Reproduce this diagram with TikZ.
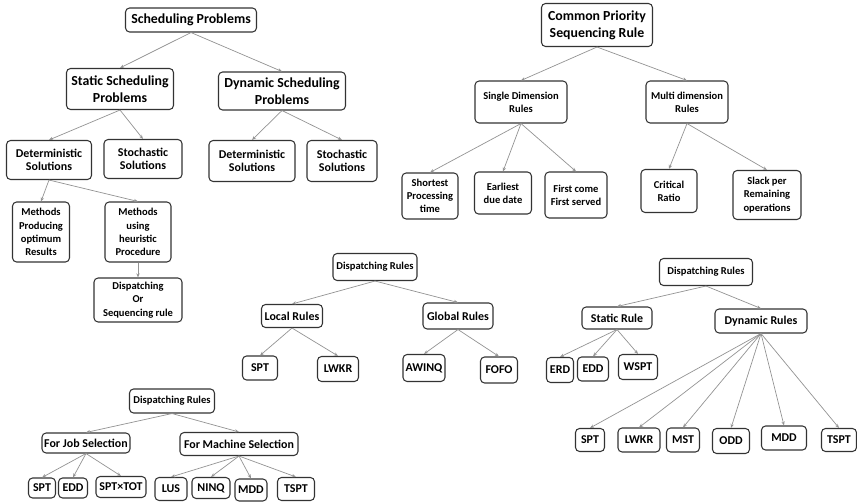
\documentclass[tikz,border=0pt]{standalone}
\usepackage{fontspec}
\setmainfont{Carlito}
\usetikzlibrary{arrows.meta}

\tikzset{
    rbox/.style={
        draw=black!80,
        line width=0.9pt,
        rounded corners=3.5pt,
        fill=white,
        align=center,
        inner sep=1pt,
        font=\bfseries
    },
    big/.style={rbox, font=\bfseries\fontsize{11.8}{14.5}\selectfont},
    mid/.style={rbox, font=\bfseries\fontsize{10.2}{11.6}\selectfont},
    small/.style={rbox, font=\bfseries\fontsize{9}{11.3}\selectfont},
    sz/.style 2 args={minimum width=#1*0.03cm, minimum height=#2*0.03cm},
    link/.style={->, gray!85, line width=0.6pt}
}

\begin{document}
\begin{tikzpicture}[>={Stealth[length=3.5pt,width=2.8pt]}, x=0.03cm, y=-0.03cm]

\useasboundingbox (0,0) rectangle (857,502);

% Scheduling problems

\node[big, sz={131}{24}] (sched) at (191,20) {Scheduling Problems};
\node[big, sz={107}{41}] (static) at (120,89) {Static Scheduling\\Problems};
\node[big, sz={127}{38}] (dynamic) at (282,91) {Dynamic Scheduling\\Problems};
\node[mid, sz={85}{39}] (detA) at (49,160) {Deterministic\\Solutions};
\node[mid, sz={78}{39}] (stochA) at (143,159) {Stochastic\\Solutions};
\node[mid, sz={86}{41}] (detB) at (252,161) {Deterministic\\Solutions};
\node[mid, sz={70}{41}] (stochB) at (342,161) {Stochastic\\Solutions};
\node[small, sz={57}{60}] (optimum) at (41,232) {Methods\\Producing\\optimum\\Results};
\node[small, sz={66}{60}] (heuristic) at (138,232) {Methods\\using\\heuristic\\Procedure};
\node[small, sz={88}{44}] (dispseq) at (138,300) {Dispatching\\Or\\Sequencing rule};

\draw[link] (sched.south) -- (static.north);
\draw[link] (sched.south) -- (dynamic.north);
\draw[link] (static.south) -- (detA.north);
\draw[link] (static.south) -- (stochA.north);
\draw[link] (dynamic.south) -- (detB.north);
\draw[link] (dynamic.south) -- (stochB.north);
\draw[link] (detA.south) -- (optimum.north);
\draw[link] (detA.south) -- (heuristic.north);
\draw[link] (heuristic.south) -- (dispseq.north);


% Common priority sequencing rule

\node[big, sz={111}{43}] (cpsr) at (597,25) {Common Priority\\Sequencing Rule};
\node[small, sz={92}{42}] (single) at (521,102) {Single Dimension\\Rules};
\node[small, sz={82}{42}] (multi) at (687,102) {Multi dimension\\Rules};
\node[small, sz={56}{46}] (sptA) at (430,196) {Shortest\\Processing\\time};
\node[small, sz={57}{42}] (eddA) at (503,193) {Earliest\\due date};
\node[small, sz={62}{46}] (fcfs) at (576,195) {First come\\First served};
\node[small, sz={56}{43}] (cr) at (669,191) {Critical\\Ratio};
\node[small, sz={68}{49}] (slack) at (767,195) {Slack per\\Remaining\\operations};

\draw[link] (cpsr.south) -- (single.north);
\draw[link] (cpsr.south) -- (multi.north);
\draw[link] (single.south) -- (sptA.north);
\draw[link] (single.south) -- (eddA.north);
\draw[link] (single.south) -- (fcfs.north);
\draw[link] (multi.south) -- (cr.north);
\draw[link] (multi.south) -- (slack.north);


% Dispatching rules: local / global

\node[small, sz={84}{27}] (dispA) at (375,267) {Dispatching Rules};
\node[mid, sz={61}{23}] (local) at (292,316) {Local Rules};
\node[mid, sz={70}{26}] (global) at (458,316) {Global Rules};
\node[mid, sz={35}{24}] (sptB) at (260,368) {SPT};
\node[mid, sz={41}{25}] (lwkrB) at (338,369) {LWKR};
\node[mid, sz={42}{27}] (awinq) at (424,368) {AWINQ};
\node[mid, sz={37}{26}] (fofo) at (499,370) {FOFO};

\draw[link] (dispA.south) -- (local.north);
\draw[link] (dispA.south) -- (global.north);
\draw[link] (local.south) -- (sptB.north);
\draw[link] (local.south) -- (lwkrB.north);
\draw[link] (global.south) -- (awinq.north);
\draw[link] (global.south) -- (fofo.north);


% Dispatching rules: job / machine selection

\node[small, sz={85}{24}] (dispB) at (172,401) {Dispatching Rules};
\node[mid, sz={88}{20}] (job) at (86,443) {For Job Selection};
\node[mid, sz={118}{23}] (machine) at (239,444) {For Machine Selection};
\node[mid, sz={27}{20}] (sptC) at (42,488) {SPT};
\node[mid, sz={29}{20}] (eddC) at (73,488) {EDD};
\node[mid, sz={50}{21}] (spttot) at (121,487) {SPT×TOT};
\node[mid, sz={32}{23}] (lus) at (171,489) {LUS};
\node[mid, sz={38}{21}] (ninq) at (211,488) {NINQ};
\node[mid, sz={32}{22}] (mddC) at (251,490) {MDD};
\node[mid, sz={37}{23}] (tsptC) at (296,489) {TSPT};

\draw[link] (dispB.south) -- (job.north);
\draw[link] (dispB.south) -- (machine.north);
\draw[link] (job.south) -- (sptC.north);
\draw[link] (job.south) -- (eddC.north);
\draw[link] (job.south) -- (spttot.north);
\draw[link] (machine.south) -- (lus.north);
\draw[link] (machine.south) -- (ninq.north);
\draw[link] (machine.south) -- (mddC.north);
\draw[link] (machine.south) -- (tsptC.north);


% Dispatching rules: static / dynamic

\node[small, sz={93}{27}] (dispC) at (706,272) {Dispatching Rules};
\node[mid, sz={70}{22}] (staticr) at (617,318) {Static Rule};
\node[mid, sz={92}{24}] (dynamicr) at (761,321) {Dynamic Rules};
\node[mid, sz={27}{25}] (erd) at (560,370) {ERD};
\node[mid, sz={31}{24}] (eddD) at (593,369) {EDD};
\node[mid, sz={39}{25}] (wspt) at (638,367) {WSPT};
\node[mid, sz={29}{23}] (sptD) at (590,440) {SPT};
\node[mid, sz={42}{24}] (lwkrD) at (639,440) {LWKR};
\node[mid, sz={33}{24}] (mst) at (683,440) {MST};
\node[mid, sz={37}{25}] (odd) at (731,441) {ODD};
\node[mid, sz={45}{24}] (mddD) at (784,438) {MDD};
\node[mid, sz={35}{23}] (tsptD) at (839,440) {TSPT};

\draw[link] (dispC.south) -- (staticr.north);
\draw[link] (dispC.south) -- (dynamicr.north);
\draw[link] (staticr.south) -- (erd.north);
\draw[link] (staticr.south) -- (eddD.north);
\draw[link] (staticr.south) -- (wspt.north);
\foreach \leaf in {sptD, lwkrD, mst, odd, mddD, tsptD}
    \draw[link] (dynamicr.south) -- (\leaf.north);

\end{tikzpicture}
\end{document}
